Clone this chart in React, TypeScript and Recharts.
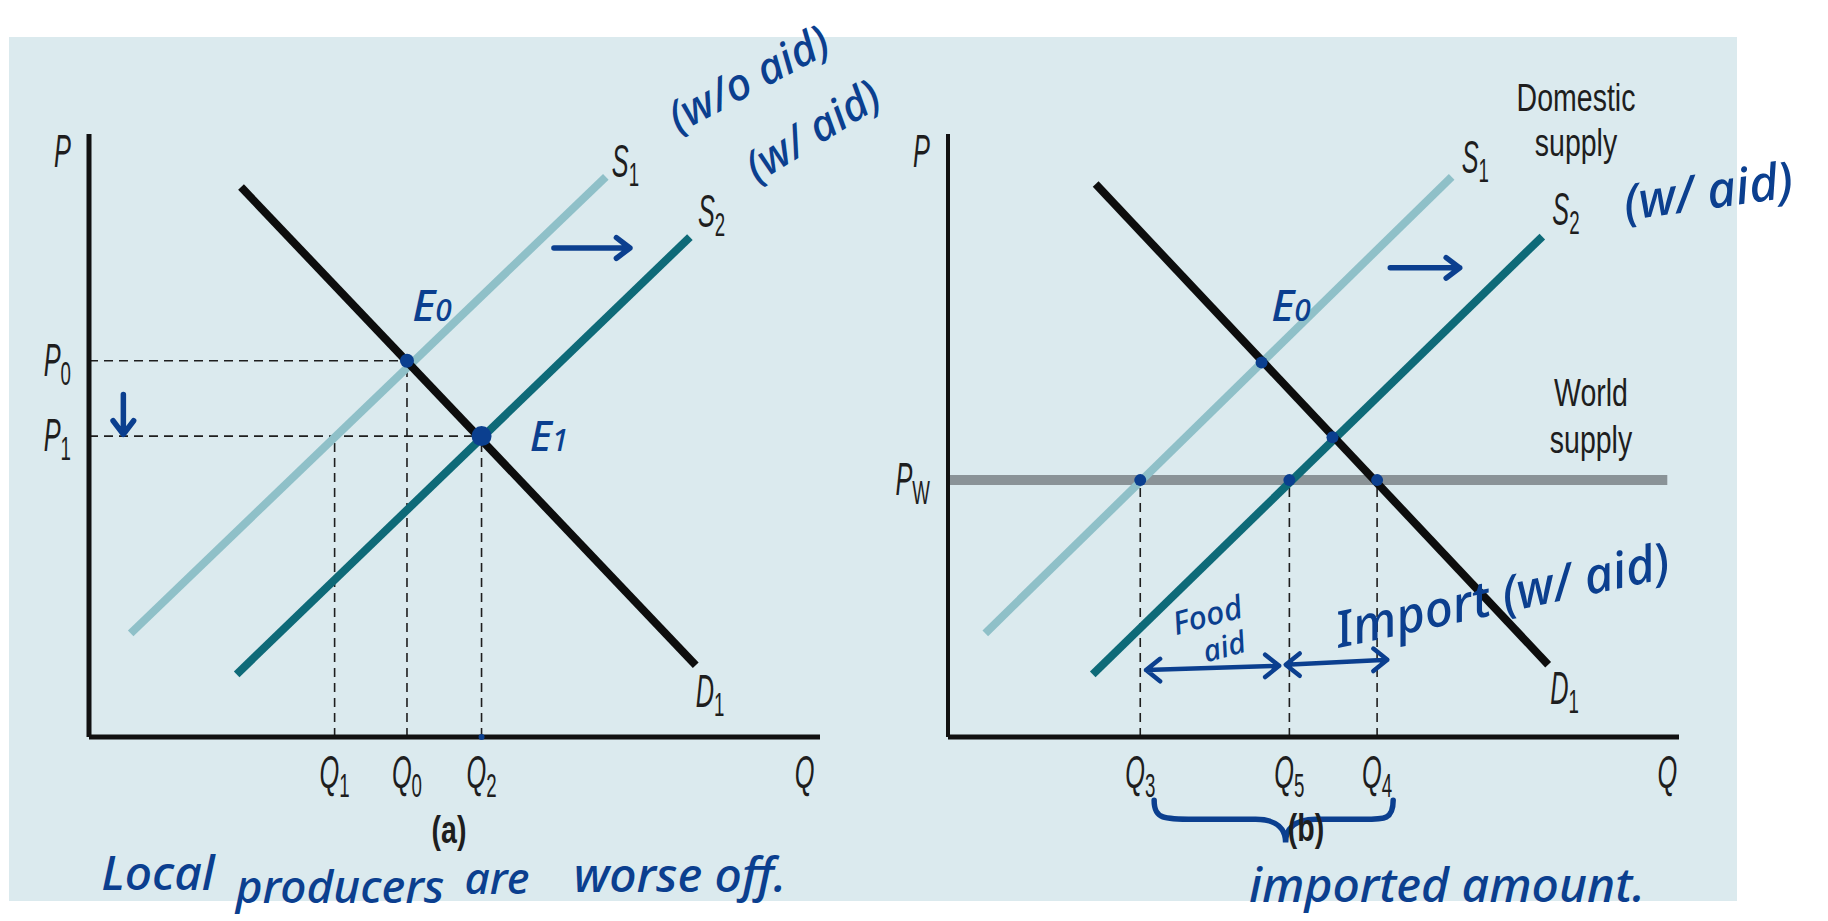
import React from 'react';
import { LineChart, Line, XAxis, YAxis, ReferenceLine, ReferenceDot, ReferenceArea } from 'recharts';

// ---- panel (a): food aid shifts local supply ----
const aS1 = [{ q: 5.7, p: 17.2 }, { q: 70.7, p: 92.9 }];
const aS2 = [{ q: 20.2, p: 10.4 }, { q: 82.2, p: 82.9 }];
const aD1 = [{ q: 20.8, p: 91.2 }, { q: 83.0, p: 11.9 }];
const aE0 = { q: 43.5, p: 62.4 };
const aE1 = { q: 53.7, p: 49.9 };
const aQ1 = 33.6;
const aPriceTicks = [62.4, 49.9, 97];
const aPriceLabels = [['P', '0'], ['P', '1'], ['P', '']];
const aQtyTicks = [33.6, 43.5, 53.7, 97.9];
const aQtyLabels = [['Q', '1'], ['Q', '0'], ['Q', '2'], ['Q', '']];

// ---- panel (b): open economy with world supply ----
const bS1 = [{ q: 5.1, p: 17.2 }, { q: 68.9, p: 92.9 }];
const bS2 = [{ q: 19.8, p: 10.4 }, { q: 81.3, p: 83.0 }];
const bD1 = [{ q: 20.2, p: 91.7 }, { q: 82.1, p: 12.0 }];
const bWorld = [{ q: 0, p: 42.6 }, { q: 98.4, p: 42.6 }];
const bPW = 42.6;
const bQ3 = 26.3;
const bQ5 = 46.7;
const bQ4 = 58.7;
const bE0 = { q: 42.9, p: 62.1 };
const bE1 = { q: 52.6, p: 49.7 };
const bPriceTicks = [42.6, 97];
const bPriceLabels = [['P', 'W'], ['P', '']];
const bQtyTicks = [26.3, 46.7, 58.7, 98.4];
const bQtyLabels = [['Q', '3'], ['Q', '5'], ['Q', '4'], ['Q', '']];

const FONT = "'Liberation Sans', Arial, sans-serif";
const HAND = '#0b3f8f';
const INK = '#1e1e1e';

const AxisLetter = ({ x, y, base, sub, anchor = 'middle' }: any) => (
  <g transform={`translate(${x},${y}) scale(0.55,1)`}>
    <text textAnchor={anchor} fontFamily={FONT} fontSize={46} fill={INK}>
      <tspan fontStyle="italic">{base}</tspan>
      {sub ? <tspan fontSize={34} dy={9}>{sub}</tspan> : null}
    </text>
  </g>
);

const qTick = (ticks: number[], labels: string[][]) => (props: any) => {
  const i = ticks.indexOf(props.payload.value);
  const [b, s] = labels[i] || ['', ''];
  return <AxisLetter x={props.x} y={props.y + 43} base={b} sub={s} />;
};

const pTick = (ticks: number[], labels: string[][]) => (props: any) => {
  const i = ticks.indexOf(props.payload.value);
  const [b, s] = labels[i] || ['', ''];
  return <AxisLetter x={props.x - 10} y={props.y + 15} base={b} sub={s} anchor="end" />;
};

// name label next to a curve end
const curveName = (base: string, sub: string, dx: number, dy: number) => (props: any) => (
  <AxisLetter x={props.cx + dx} y={props.cy + dy} base={base} sub={sub} anchor="start" />
);

const Arrow = (props: any) => {
  const { x1, y1, x2, y2 } = props;
  const a = Math.atan2(y2 - y1, x2 - x1);
  const h = 17;
  const hx1 = x2 - h * Math.cos(a - 0.65), hy1 = y2 - h * Math.sin(a - 0.65);
  const hx2 = x2 - h * Math.cos(a + 0.65), hy2 = y2 - h * Math.sin(a + 0.65);
  return (
    <path d={`M${x1},${y1} L${x2},${y2} M${hx1},${hy1} L${x2},${y2} L${hx2},${hy2}`}
      stroke={HAND} strokeWidth={5.5} fill="none" strokeLinecap="round" strokeLinejoin="round" />
  );
};

const DoubleArrow = (props: any) => {
  const { x1, y1, x2, y2 } = props;
  const h = 14;
  return (
    <path d={`M${x1},${y1} L${x2},${y2} M${x1 + h},${y1 - h * 0.8} L${x1},${y1} L${x1 + h},${y1 + h * 0.8} M${x2 - h},${y2 - h * 0.8} L${x2},${y2} L${x2 - h},${y2 + h * 0.8}`}
      stroke={HAND} strokeWidth={4.5} fill="none" strokeLinecap="round" strokeLinejoin="round" />
  );
};

const Brace = (props: any) => {
  const { x, y, width: w, height: h } = props;
  const m = x + w * 0.55;
  const mid = y + h * 0.45;
  const d = `M${x},${y} C${x},${mid} ${x + 10},${mid} ${x + 40},${mid} L${m - 30},${mid} C${m - 8},${mid} ${m},${y + h * 0.7} ${m},${y + h} C${m},${y + h * 0.7} ${m + 8},${mid} ${m + 30},${mid} L${x + w - 30},${mid} C${x + w - 8},${mid} ${x + w},${mid} ${x + w},${y}`;
  return <path d={d} stroke={HAND} strokeWidth={5.5} fill="none" strokeLinecap="round" />;
};

const dash = { stroke: INK, strokeWidth: 1.6, strokeDasharray: '9 6' };

const Note = ({ x, y, size = 42, rotate = 0, children }: any) => (
  <div style={{
    position: 'absolute', left: x, top: y, transform: `translate(-50%,-50%) rotate(${rotate}deg)`,
    fontFamily: "'Noto Sans', sans-serif", fontStyle: 'italic', fontSize: size, color: HAND,
    whiteSpace: 'nowrap', lineHeight: 0.85, fontWeight: 500,
  }}>{children}</div>
);

const Printed = ({ x, y, size = 38, bold = false, children }: any) => (
  <div style={{
    position: 'absolute', left: x, top: y, transform: 'translate(-50%,-50%) scaleX(0.75)',
    fontFamily: FONT, fontSize: size, color: INK, lineHeight: 1, whiteSpace: 'nowrap',
    textAlign: 'center', fontWeight: bold ? 700 : 400,
  }}>{children}</div>
);

const axisStyle = { stroke: '#111', strokeWidth: 5 };

const PanelA = () => (
  <LineChart width={880} height={921} margin={{ top: 134, right: 60, bottom: 104, left: 9 }}>
    <XAxis type="number" dataKey="q" domain={[0, 100]} ticks={aQtyTicks} interval={0} height={80}
      axisLine={axisStyle} tickLine={false} tick={qTick(aQtyTicks, aQtyLabels)} />
    <YAxis type="number" dataKey="p" domain={[0, 100]} ticks={aPriceTicks} interval={0} width={80}
      axisLine={axisStyle} tickLine={false} tick={pTick(aPriceTicks, aPriceLabels)} />
    <ReferenceLine segment={[{ x: 0, y: aE0.p }, { x: aE0.q, y: aE0.p }]} {...dash} />
    <ReferenceLine segment={[{ x: 0, y: aE1.p }, { x: aE1.q, y: aE1.p }]} {...dash} />
    <ReferenceLine segment={[{ x: aQ1, y: 0 }, { x: aQ1, y: aE1.p }]} {...dash} />
    <ReferenceLine segment={[{ x: aE0.q, y: 0 }, { x: aE0.q, y: aE0.p }]} {...dash} />
    <ReferenceLine segment={[{ x: aE1.q, y: 0 }, { x: aE1.q, y: aE1.p }]} {...dash} />
    <Line data={aS1} dataKey="p" stroke="#8fc0c8" strokeWidth={8} dot={false} isAnimationActive={false} />
    <Line data={aS2} dataKey="p" stroke="#0e6a78" strokeWidth={8} dot={false} isAnimationActive={false} />
    <Line data={aD1} dataKey="p" stroke="#0d0d0d" strokeWidth={8} dot={false} isAnimationActive={false} />
    <ReferenceDot x={aS1[1].q} y={aS1[1].p} r={0} shape={curveName('S', '1', 6, 0)} />
    <ReferenceDot x={aS2[1].q} y={aS2[1].p} r={0} shape={curveName('S', '2', 8, -10)} />
    <ReferenceDot x={aD1[1].q} y={aD1[1].p} r={0} shape={curveName('D', '1', 0, 42)} />
    <ReferenceDot x={aE0.q} y={aE0.p} r={7} fill={HAND} stroke="none" />
    <ReferenceDot x={aE1.q} y={aE1.p} r={10} fill={HAND} stroke="none" />
    <ReferenceDot x={aE1.q} y={0} r={3} fill={HAND} stroke="none" />
    <ReferenceLine segment={[{ x: 63.6, y: 81.1 }, { x: 74.0, y: 81.1 }]} shape={Arrow} />
    <ReferenceLine segment={[{ x: 4.7, y: 56.8 }, { x: 4.7, y: 50.2 }]} shape={Arrow} />
  </LineChart>
);

const PanelB = () => (
  <LineChart width={948} height={921} margin={{ top: 134, right: 149, bottom: 104, left: 8 }}>
    <XAxis type="number" dataKey="q" domain={[0, 100]} ticks={bQtyTicks} interval={0} height={80}
      axisLine={axisStyle} tickLine={false} tick={qTick(bQtyTicks, bQtyLabels)} />
    <YAxis type="number" dataKey="p" domain={[0, 100]} ticks={bPriceTicks} interval={0} width={60}
      axisLine={{ stroke: '#111', strokeWidth: 4 }} tickLine={false} tick={pTick(bPriceTicks, bPriceLabels)} />
    <Line data={bWorld} dataKey="p" stroke="#8a9397" strokeWidth={10} dot={false} isAnimationActive={false} />
    <ReferenceLine segment={[{ x: bQ3, y: 0 }, { x: bQ3, y: bPW }]} {...dash} />
    <ReferenceLine segment={[{ x: bQ5, y: 0 }, { x: bQ5, y: bPW }]} {...dash} />
    <ReferenceLine segment={[{ x: bQ4, y: 0 }, { x: bQ4, y: bPW }]} {...dash} />
    <Line data={bS1} dataKey="p" stroke="#8fc0c8" strokeWidth={8} dot={false} isAnimationActive={false} />
    <Line data={bS2} dataKey="p" stroke="#0e6a78" strokeWidth={8} dot={false} isAnimationActive={false} />
    <Line data={bD1} dataKey="p" stroke="#0d0d0d" strokeWidth={8} dot={false} isAnimationActive={false} />
    <ReferenceDot x={bS1[1].q} y={bS1[1].p} r={0} shape={curveName('S', '1', 10, -4)} />
    <ReferenceDot x={bS2[1].q} y={bS2[1].p} r={0} shape={curveName('S', '2', 10, -12)} />
    <ReferenceDot x={bD1[1].q} y={bD1[1].p} r={0} shape={curveName('D', '1', 2, 39)} />
    <ReferenceDot x={bE0.q} y={bE0.p} r={6} fill={HAND} stroke="none" />
    <ReferenceDot x={bE1.q} y={bE1.p} r={6} fill={HAND} stroke="none" />
    <ReferenceDot x={bQ3} y={bPW} r={6} fill={HAND} stroke="none" />
    <ReferenceDot x={bQ5} y={bPW} r={6} fill={HAND} stroke="none" />
    <ReferenceDot x={bQ4} y={bPW} r={6} fill={HAND} stroke="none" />
    <ReferenceLine segment={[{ x: 60.5, y: 77.8 }, { x: 70.0, y: 77.8 }]} shape={Arrow} />
    <ReferenceLine segment={[{ x: 27.1, y: 11.1 }, { x: 45.3, y: 11.8 }]} shape={DoubleArrow} />
    <ReferenceLine segment={[{ x: 46.2, y: 12.0 }, { x: 60.1, y: 12.8 }]} shape={DoubleArrow} />
    <ReferenceArea x1={28.2} x2={60.9} y1={-10.5} y2={-17.5} ifOverflow="visible" shape={Brace} />
  </LineChart>
);

export default function App() {
  return (
    <div style={{ position: 'absolute', left: 0, top: 0, width: 1828, height: 921, background: '#fff', overflow: 'hidden' }}>
      <div style={{ position: 'absolute', left: 9, top: 37, width: 1728, height: 864, background: '#dbeaee' }} />
      <div style={{ position: 'absolute', left: 0, top: 0 }}><PanelA /></div>
      <div style={{ position: 'absolute', left: 880, top: 0 }}><PanelB /></div>

      <Printed x={1576} y={98}>Domestic</Printed>
      <Printed x={1576} y={143}>supply</Printed>
      <Printed x={1591} y={393}>World</Printed>
      <Printed x={1591} y={440}>supply</Printed>
      <Printed x={449} y={830} size={38} bold>(a)</Printed>
      <Printed x={1306} y={828} size={38} bold>(b)</Printed>

      <Note x={748} y={78} size={44} rotate={-28}>(w/o aid)</Note>
      <Note x={812} y={130} size={44} rotate={-32}>(w/ aid)</Note>
      <Note x={432} y={305} size={44}>E<span style={{ fontSize: 30 }}>0</span></Note>
      <Note x={549} y={435} size={42}>E<span style={{ fontSize: 30 }}>1</span></Note>
      <Note x={1291} y={305} size={44}>E<span style={{ fontSize: 30 }}>0</span></Note>
      <Note x={1708} y={190} size={50} rotate={-8}>(w/ aid)</Note>
      <Note x={1207} y={614} size={32} rotate={-15}>Food</Note>
      <Note x={1224} y={646} size={30} rotate={-15}>aid</Note>
      <Note x={1502} y={594} size={50} rotate={-12}>Import (w/ aid)</Note>
      <Note x={158} y={872} size={48}>Local</Note>
      <Note x={340} y={886} size={46}>producers</Note>
      <Note x={497} y={878} size={44}>are</Note>
      <Note x={680} y={874} size={48}>worse off.</Note>
      <Note x={1447} y={884} size={48}>imported amount.</Note>
    </div>
  );
}
